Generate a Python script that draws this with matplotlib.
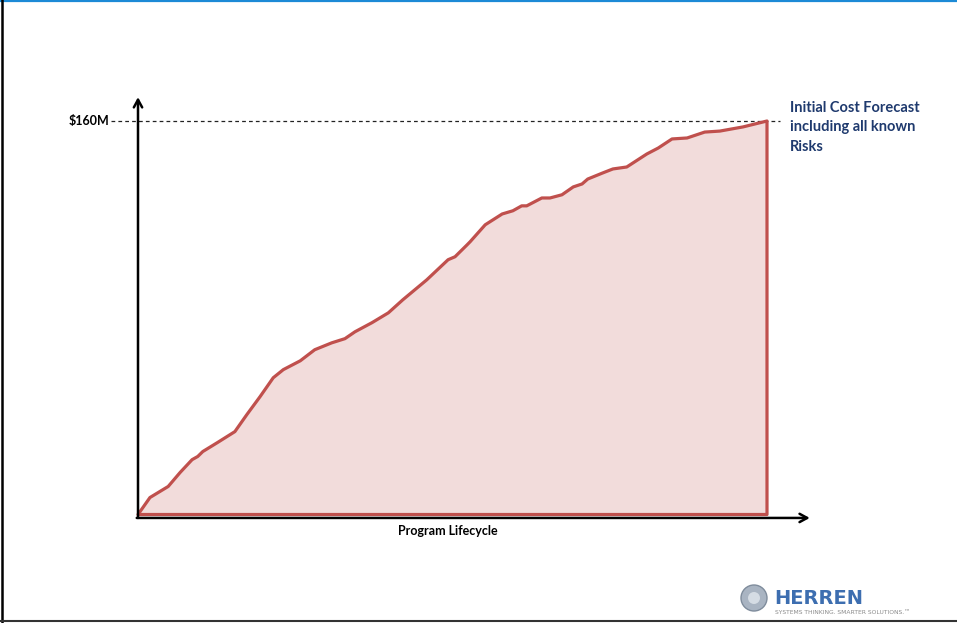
import matplotlib
matplotlib.use("Agg")
import matplotlib.pyplot as plt
from matplotlib.patches import Ellipse

# Cumulative cost forecast over the program lifecycle (% of lifecycle, $M)
lifecycle_pct = [0, 1.9, 4.8, 6.7, 8.6, 9.5, 10.3, 12.6, 15.4, 17.3, 19.4, 21.5,
                 23.1, 25.8, 28.1, 30.8, 32.9, 34.5, 37.2, 39.8, 42.1, 45.9,
                 49.3, 50.4, 52.3, 52.8, 55.2, 57.9, 59.6, 61.0, 61.8, 64.2,
                 65.5, 67.4, 69.2, 70.6, 71.5, 73.9, 75.5, 77.7, 80.9, 82.7,
                 84.9, 87.3, 90.1, 92.5, 96.2, 100]
cost_musd = [0, 6.9, 11.4, 17.1, 22.3, 23.6, 25.6, 29.2, 33.7, 40.6, 47.9, 55.6,
             58.9, 62.5, 67.0, 69.8, 71.5, 74.3, 78.0, 82.0, 87.3, 95.4,
             103.6, 104.8, 109.6, 110.9, 117.8, 122.2, 123.5, 125.5, 125.5, 128.7,
             128.7, 130.0, 133.2, 134.4, 136.4, 138.9, 140.5, 141.3, 146.6, 149.0,
             152.7, 153.1, 155.5, 155.9, 157.6, 160]
forecast_value = 160
forecast_label = "$160M"
x_label = "Program Lifecycle"
note_lines = ["Initial Cost Forecast", "including all known", "Risks"]

W, H = 957, 623
fig = plt.figure(figsize=(W / 100, H / 100), dpi=100)
fig.patch.set_facecolor("white")

def fx(px):
    return px / W

def fy(py):
    return 1 - py / H

# plotting area
ax = fig.add_axes([fx(138), fy(514.5), (767 - 138) / W, (514.5 - 121) / H])
ax.set_xlim(0, 100)
ax.set_ylim(0, 160)
ax.axis("off")

# shaded area under the curve, closed down to the baseline
xs = lifecycle_pct + [lifecycle_pct[-1], lifecycle_pct[0]]
ys = cost_musd + [0, 0]
ax.fill(xs, ys, facecolor="#F2DCDB", edgecolor="#C0504D", linewidth=2.3,
        joinstyle="round", zorder=2, clip_on=False)

# forecast reference line
ax.plot([-4.3, 102.1], [forecast_value, forecast_value], color="#222222",
        linestyle=(0, (3, 2.5)), linewidth=0.9, clip_on=False, zorder=1)
ax.text(-4.5, forecast_value, forecast_label, ha="right", va="center",
        fontsize=9, fontweight="bold", family="Lato", color="black")

# axis arrows
arrow = dict(arrowstyle="->,head_length=0.55,head_width=0.3", color="black",
             lw=1.8, shrinkA=0, shrinkB=0)
ax.annotate("", xy=(0, 169.7), xytext=(0, -1.4), arrowprops=arrow,
            annotation_clip=False, zorder=4)
ax.annotate("", xy=(106.8, -1.4), xytext=(-0.2, -1.4), arrowprops=arrow,
            annotation_clip=False, zorder=1)

fig.text(fx(448), fy(531), x_label, ha="center", va="center",
         fontsize=9, fontweight="bold", family="Lato", color="black")

for i, line in enumerate(note_lines):
    fig.text(fx(790), fy(108 + i * 19.5), line, ha="left", va="center",
             fontsize=10.5, fontweight="bold", family="Lato", color="#1F3A6E")

# page frame
fig.add_artist(plt.Line2D([0, 1], [fy(0.8), fy(0.8)], color="#1C8AD6", lw=1.6))
fig.add_artist(plt.Line2D([fx(1.5), fx(1.5)], [0, 1], color="black", lw=1.8))
fig.add_artist(plt.Line2D([0, 1], [fy(620.5), fy(620.5)], color="#333333", lw=1.5))

# company logo
fig.add_artist(Ellipse((fx(754), fy(598)), 26 / W, 26 / H, transform=fig.transFigure,
                       facecolor="#A9B4C2", edgecolor="#7F8C9C", lw=1.0))
fig.add_artist(Ellipse((fx(754), fy(598)), 12 / W, 12 / H, transform=fig.transFigure,
                       facecolor="#D5DCE4", edgecolor="none"))
fig.text(fx(774), fy(598), "HERREN", ha="left", va="center", fontsize=14,
         fontweight="bold", family="DejaVu Sans", color="#3D6EB0")
fig.text(fx(775), fy(613), "SYSTEMS THINKING. SMARTER SOLUTIONS.\u2122", ha="left",
         va="center", fontsize=4.3, family="DejaVu Sans", color="#8A8A8A")

fig.savefig("out.png", dpi=100)
